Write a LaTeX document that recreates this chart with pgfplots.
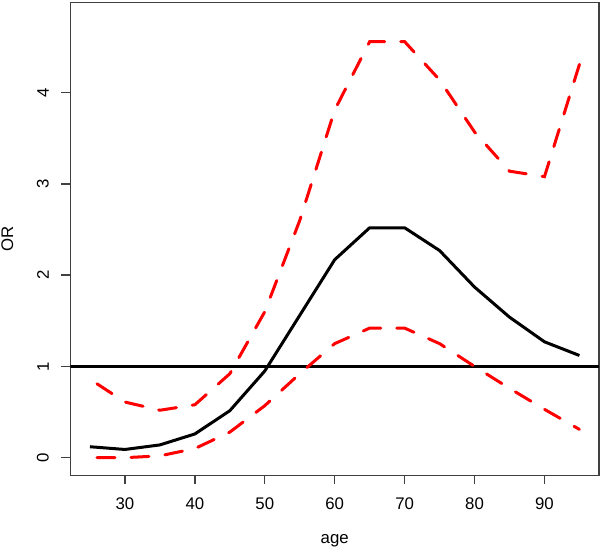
\documentclass[border=0pt]{standalone}
\usepackage{fontspec}
\setmainfont{Liberation Sans}
\usepackage{pgfplots}
\pgfplotsset{compat=1.18}
\definecolor{rred}{RGB}{255,0,0}
\begin{document}
\begin{tikzpicture}
\useasboundingbox (-35.2bp,-36.75bp) rectangle (264.8bp,237.6bp);
\begin{axis}[
 scale only axis,width=264.3bp,height=236.5bp,
 xmin=22.2,xmax=97.8,ymin=-0.192,ymax=4.992,
 xtick={30,40,...,90},ytick={0,1,2,3,4},
 tick pos=left,
 tick align=outside,major tick length=4.5bp,
 axis line style={black!75,line width=0.7bp},
 every tick/.style={black!75,line width=0.7bp},
 /pgf/number format/assume math mode=true,
 tick label style={font=\fontsize{8.4bp}{10bp}\selectfont,inner sep=0pt},
 xticklabel style={anchor=north,yshift=-6.75bp},
 yticklabel style={rotate=90,anchor=south,yshift=6.1bp},
 label style={font=\fontsize{8.4bp}{10bp}\selectfont,inner sep=0pt},
 xlabel={age},ylabel={OR},
 xlabel style={at={(axis description cs:0.5,0)},anchor=center,yshift=-32.75bp},
 ylabel style={at={(axis description cs:0,0.5)},anchor=center,yshift=31.5bp},
]
% reference line at OR = 1
\addplot[black,line width=1.5bp] coordinates {(22.2,1) (97.8,1)};
% upper confidence limit
\addplot[rred,line width=1.5bp,line cap=round,dash pattern=on 9bp off 8bp] coordinates
 {(26,0.81) (30,0.61) (35,0.52) (40,0.58) (45,0.92) (50,1.60) (55,2.60) (60,3.81)
  (65,4.56) (70,4.56) (75,4.14) (80,3.57) (85,3.14) (90,3.08) (95,4.31)};
% lower confidence limit
\addplot[rred,line width=1.5bp,line cap=round,dash pattern=on 9bp off 8bp] coordinates
 {(26,0.00) (30,0.00) (35,0.02) (40,0.10) (45,0.28) (50,0.57) (55,0.92) (60,1.25)
  (65,1.42) (70,1.42) (75,1.25) (80,1.00) (85,0.76) (90,0.53) (95,0.31)};
% estimate
\addplot[black,line width=1.5bp] coordinates
 {(25,0.12) (30,0.09) (35,0.14) (40,0.26) (45,0.515) (50,0.95) (55,1.56) (60,2.17)
  (65,2.52) (70,2.52) (75,2.27) (80,1.87) (85,1.54) (90,1.27) (95,1.12)};
\end{axis}
\end{tikzpicture}
\end{document}
